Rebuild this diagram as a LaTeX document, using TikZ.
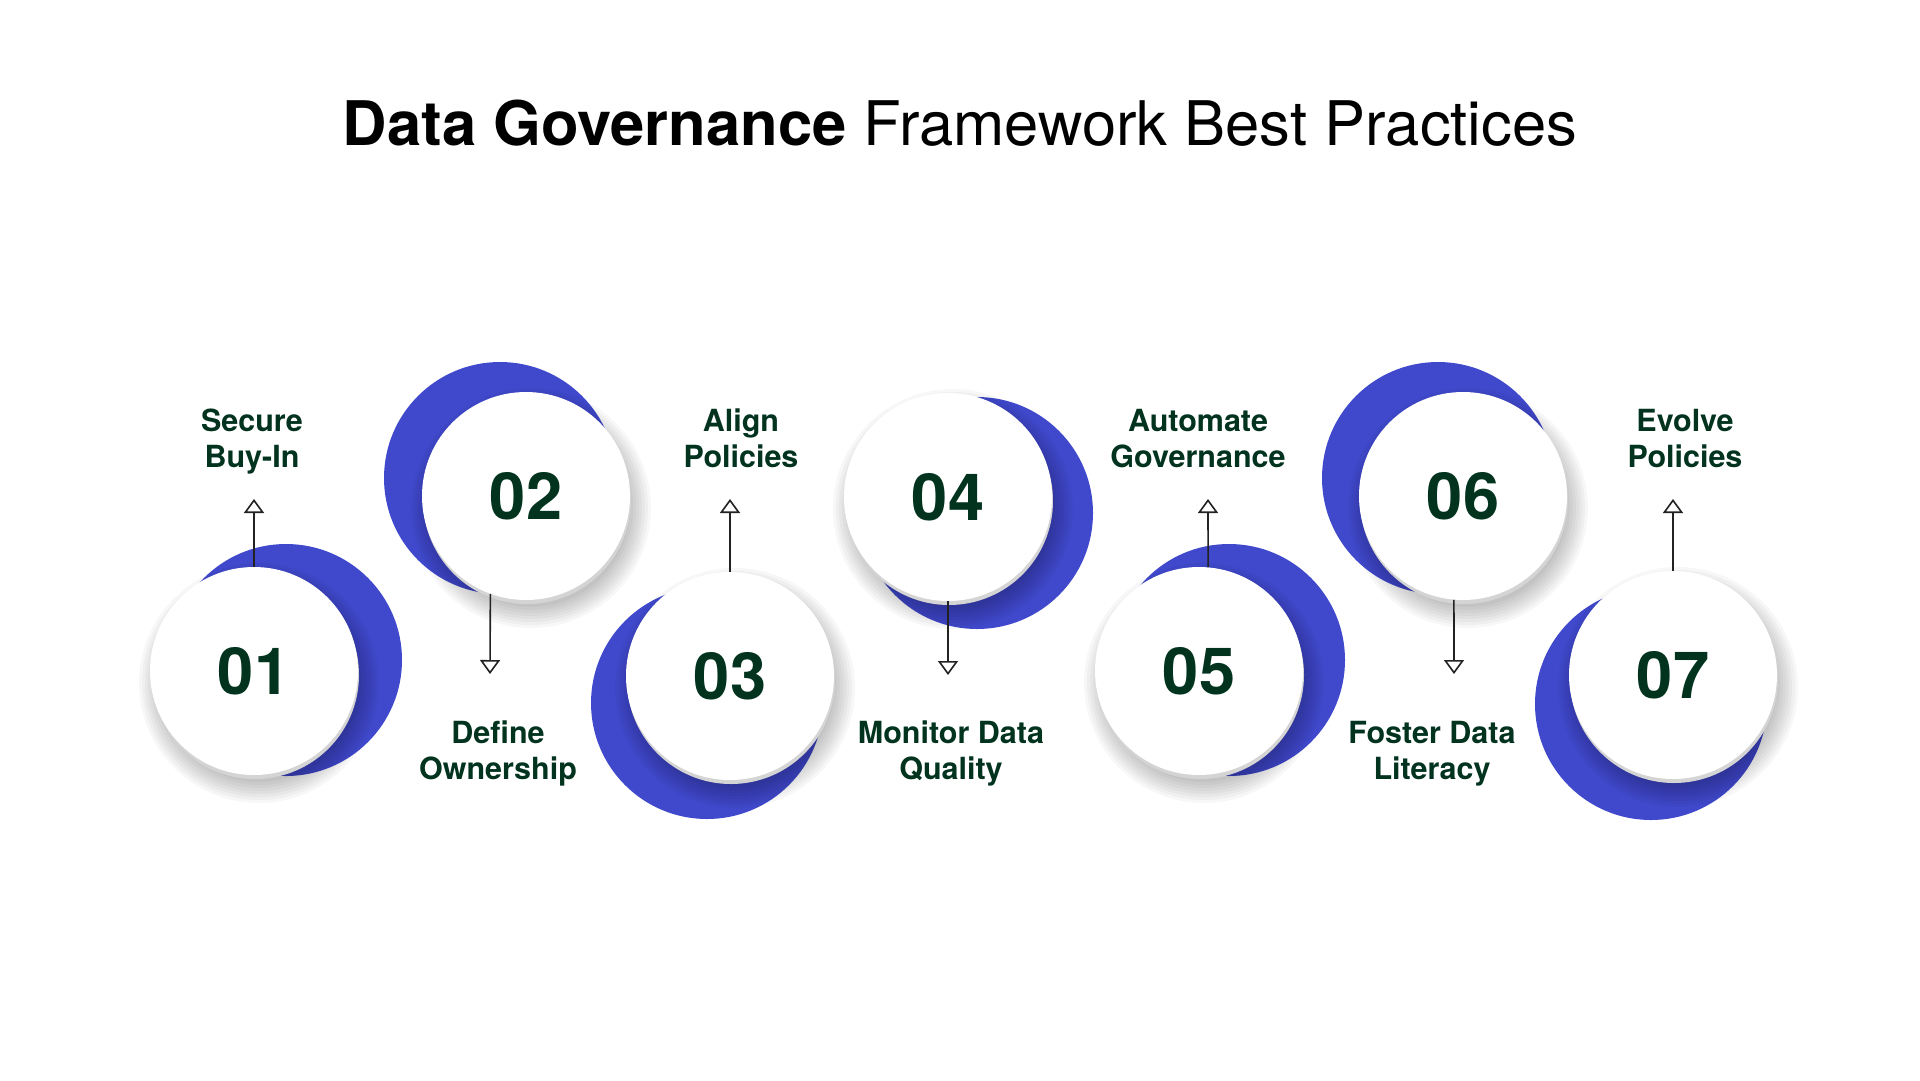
\documentclass[tikz,border=0pt]{standalone}
\usepackage{fontspec}
\setmainfont{TeX Gyre Heros}
\usetikzlibrary{arrows.meta}
\definecolor{cblue}{RGB}{64,73,204}
\definecolor{cgreen}{HTML}{02331F}
\definecolor{cline}{HTML}{222222}
\tikzset{
  bluedisc/.style={circle,fill=cblue,minimum size=232pt,inner sep=0pt},
  rimdisc/.style={circle,fill=black!17,minimum size=208pt,inner sep=0pt},
  whitedisc/.style={circle,fill=white,minimum size=208pt,inner sep=0pt,text=cgreen,
    font=\fontsize{65}{65}\selectfont\bfseries},
  shadowring/.style={fill=black,fill opacity=0.03},
  lbl/.style={anchor=base,text=cgreen,font=\fontsize{30.5}{36}\selectfont\bfseries,inner sep=0pt},
  conn/.style={draw=cline,line width=1.6pt,-{Triangle[open,width=20pt,length=14pt]}},
}
\begin{document}
\begin{tikzpicture}[x=1pt,y=-1pt]
\useasboundingbox (0,0) rectangle (1920,1080);
\fill[white] (0,0) rectangle (1920,1080);

\node[anchor=base,inner sep=0pt,font=\fontsize{61.5}{62}\selectfont] (title) at (960,145)
  {\textbf{Data Governance} Framework Best Practices};

% step circles
\foreach \i/\bx/\by/\cx/\cy in {1/286/660/254/671, 2/500/478/526/496, 3/707/703/730/676,
  4/977/513/948/497, 5/1229/660/1199/671, 6/1438/478/1463/496, 7/1651/704/1673/675}{
  \node[bluedisc] (b\i) at (\bx,\by) {};
  \foreach \rr in {120,117,...,99}{
    \fill[shadowring] (\cx+5,\cy+12) circle[radius=\rr];
  }
  \node[rimdisc] (r\i) at (\cx+1,\cy+4) {};
  \node[whitedisc] (c\i) at (\cx,\cy) {\raisebox{-3pt}{0\i}};
}

% labels
\node[lbl] (l1a) at (252,431) {Secure};
\node[lbl] (l1b) at (252,467) {Buy-In};
\node[lbl] (l2a) at (498,743) {Define};
\node[lbl] (l2b) at (498,779) {Ownership};
\node[lbl] (l3a) at (741,431) {Align};
\node[lbl] (l3b) at (741,467) {Policies};
\node[lbl] (l4a) at (951,743) {Monitor Data};
\node[lbl] (l4b) at (951,779) {Quality};
\node[lbl] (l5a) at (1198,431) {Automate};
\node[lbl] (l5b) at (1198,467) {Governance};
\node[lbl] (l6a) at (1432,743) {Foster Data};
\node[lbl] (l6b) at (1432,779) {Literacy};
\node[lbl] (l7a) at (1685,431) {Evolve};
\node[lbl] (l7b) at (1685,467) {Policies};

% arrow end points
\coordinate (e1) at (254,499);
\coordinate (e2) at (490,674);
\coordinate (e3) at (730,499);
\coordinate (e4) at (948,675);
\coordinate (e5) at (1208,499);
\coordinate (e6) at (1454,674);
\coordinate (e7) at (1673,499);

\draw[conn] (c1.north) -- (e1);
\draw[conn] (c2.250) -- (e2);
\draw[conn] (c3.north) -- (e3);
\draw[conn] (c4.south) -- (e4);
\draw[conn] (c5.85) -- (e5);
\draw[conn] (c6.265) -- (e6);
\draw[conn] (c7.north) -- (e7);
\end{tikzpicture}
\end{document}
